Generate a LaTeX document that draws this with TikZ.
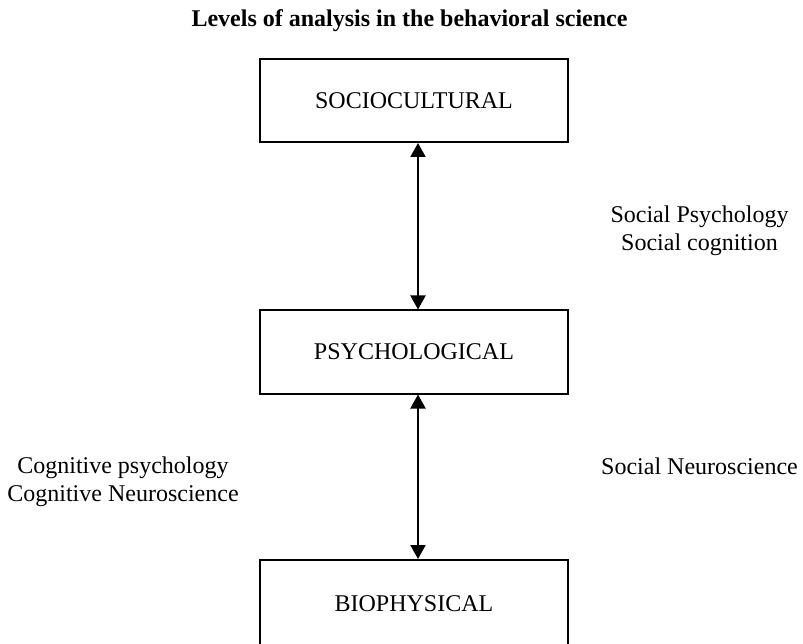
\documentclass[tikz,border=0pt]{standalone}
\usepackage{fontspec}
\setmainfont{Liberation Serif}
\usetikzlibrary{arrows.meta}
\begin{document}
\begin{tikzpicture}[x=1pt,y=-1pt,
  level/.style={draw,line width=2pt,minimum width=308pt,minimum height=83pt,
    inner sep=0pt,font=\fontsize{24}{28}\selectfont},
  link/.style={line width=2pt,
    {Triangle[length=14pt,width=15pt]}-{Triangle[length=14pt,width=15pt]}},
  note/.style={align=center,inner sep=0pt,font=\fontsize{24}{28}\selectfont}]
\useasboundingbox (0,0) rectangle (803,644);

% title
\node[anchor=base,inner sep=0pt,font=\bfseries\fontsize{24}{28}\selectfont]
  (title) at (409.5,27) {Levels of analysis in the behavioral science};

% the three levels (the lowest runs past the page edge)
\node[level] (socio) at (414,100.5) {SOCIOCULTURAL};
\node[level] (psych) at (414,352) {PSYCHOLOGICAL};
\node[level,minimum height=88pt] (bio) at (414,604) {BIOPHYSICAL};

% two-way links between levels
\draw[link] ([xshift=4pt]socio.south) -- ([xshift=4pt]psych.north);
\draw[link] ([xshift=4pt]psych.south) -- ([xshift=4pt]bio.north);

% fields bridging the levels (base = baseline of the last line)
\node[note,anchor=base] (sp)  at (699.5,251) {Social Psychology\\Social cognition};
\node[note,anchor=base] (cog) at (123,501) {Cognitive psychology\\Cognitive Neuroscience};
\node[note,anchor=base] (sn)  at (699.5,474) {Social Neuroscience};
\end{tikzpicture}
\end{document}
